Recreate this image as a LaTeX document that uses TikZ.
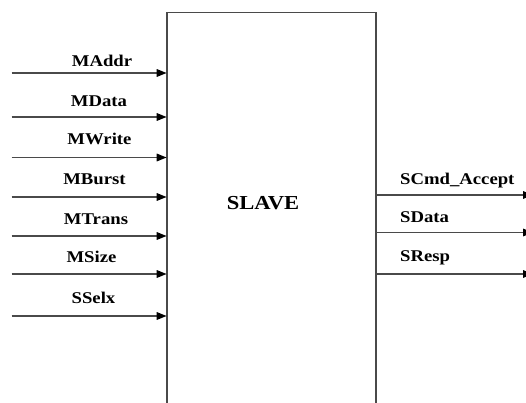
\documentclass[tikz,border=0pt]{standalone}
\usepackage{fontspec}
\setmainfont{Liberation Serif}[FakeStretch=1.14]
\usetikzlibrary{arrows.meta}
\definecolor{linegray}{HTML}{4A4A4A}
\tikzset{
  sig/.style={draw=linegray, line width=1.6pt, -{Triangle[length=10pt,width=7.5pt,color=black]}},
  boxline/.style={draw=linegray, line width=1.6pt},
  lab/.style={font=\bfseries\fontsize{16.4}{18}\selectfont, anchor=base, inner sep=0pt},
  rlab/.style={lab, anchor=base west},
  title/.style={font=\bfseries\fontsize{19.8}{22}\selectfont, anchor=base, inner sep=0pt}
}
\begin{document}
\begin{tikzpicture}[x=1pt,y=-1pt]
\useasboundingbox (0,0) rectangle (526,403);
\clip (0,0) rectangle (526,403);
% slave box (open at the bottom of the picture)
\coordinate (bl) at (166.7,410);
\coordinate (tl) at (166.7,12.7);
\coordinate (tr) at (375.7,12.7);
\coordinate (br) at (375.7,410);
\draw[boxline] (bl) -- (tl) -- (tr) -- (br);
\node[title] (slave) at (263,209) {SLAVE};
% inputs
\foreach \n/\txt/\lx/\ly/\ay in {maddr/MAddr/102/67/73, mdata/MData/99/106.7/117, mwrite/MWrite/99.5/145/157.5, mburst/MBurst/94.5/185/197, mtrans/MTrans/96/224/236, msize/MSize/91.5/262.7/274, sselx/SSelx/93.5/303/316}{
  \node[lab] (\n) at (\lx,\ly) {\txt};
  \coordinate (\n-s) at (11.7,\ay);
  \coordinate (\n-e) at (166.7,\ay);
  \draw[sig] (\n-s) -- (\n-e);
}
% outputs
\foreach \n/\txt/\ly/\ay in {scmd/SCmd\_Accept/184/195, sdata/SData/222/232.5, sresp/SResp/261/274}{
  \node[rlab] (\n) at (400,\ly) {\txt};
  \coordinate (\n-s) at (375.7,\ay);
  \coordinate (\n-e) at (533,\ay);
  \draw[sig] (\n-s) -- (\n-e);
}
\end{tikzpicture}
\end{document}
